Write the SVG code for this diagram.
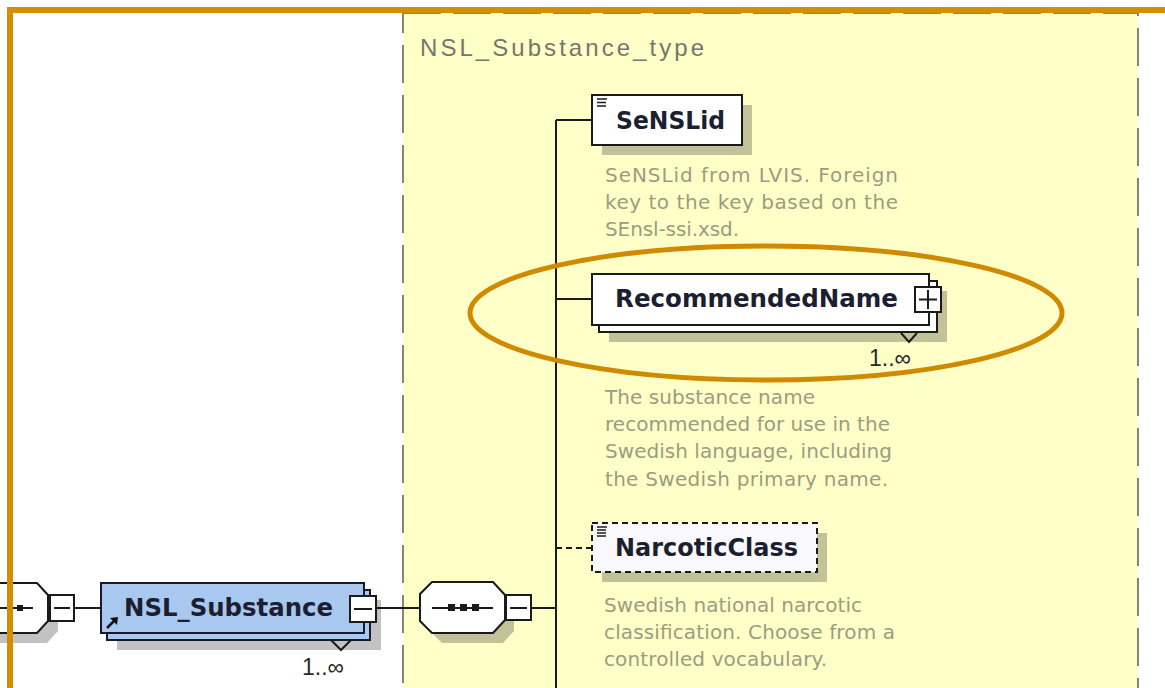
<svg xmlns="http://www.w3.org/2000/svg" width="1165" height="688" viewBox="0 0 1165 688">
<style>
.bg{fill:#ffffff}
.type{fill:#ffffc8;stroke:#85857a;stroke-width:2;stroke-dasharray:38 12}
.shadow{fill:#000;opacity:0.24}
.box{fill:#ffffff;stroke:#1a1a1a;stroke-width:2}
.boxd{fill:#f9f9fd;stroke:#1a1a1a;stroke-width:2;stroke-dasharray:6 4}
.blue{fill:#a8c8ef;stroke:#1a1a2a;stroke-width:2}
.btn{fill:#ffffff;stroke:#1a1a1a;stroke-width:2}
.ln{stroke:#1a1a1a;stroke-width:2;fill:none}
.lnd{stroke:#1a1a1a;stroke-width:2;fill:none;stroke-dasharray:6 4}
.lbl{font-family:"DejaVu Sans","Liberation Sans",sans-serif;font-weight:bold;font-size:24px;fill:#1c1f30}
.desc{font-family:"DejaVu Sans","Liberation Sans",sans-serif;font-size:20px;fill:#9c9c80}
.occ{font-family:"Liberation Sans",Arial,sans-serif;font-size:23px;fill:#2a2a2a}
.title{font-family:"Liberation Sans",Arial,sans-serif;font-size:24px;fill:#76766c}
.orange{fill:none;stroke:#d48f00;stroke-width:6}
.oval{fill:none;stroke:#d08a00;stroke-width:5}
.icon{stroke:#1a1a1a;stroke-width:1.5}
</style>
<rect class="bg" x="0" y="0" width="1165" height="688"/>

<g id="type-box">
<rect class="type" x="403" y="13" width="735" height="700"/>
<text class="title" x="420" y="56" textLength="284" lengthAdjust="spacing">NSL_Substance_type</text>
</g>

<g id="connectors">
<line class="ln" x1="74" y1="608" x2="101" y2="608"/>
<line class="ln" x1="376" y1="608" x2="420" y2="608"/>
<line class="ln" x1="531" y1="608" x2="556" y2="608"/>
<line class="ln" x1="556" y1="120" x2="556" y2="688"/>
<line class="ln" x1="556" y1="120" x2="592" y2="120"/>
<line class="ln" x1="556" y1="299" x2="592" y2="299"/>
<line class="lnd" x1="556" y1="548" x2="592" y2="548"/>
</g>

<g id="parent-compositor">
<polygon class="shadow" points="0,593 47,593 58,605 58,631 47,643 0,643"/>
<polygon class="box" points="-5,583 37,583 48,595 48,621 37,633 -5,633"/>
<line class="ln" x1="0" y1="608" x2="33" y2="608"/>
<rect x="17" y="605" width="6" height="6" fill="#1a1a1a"/>
<rect class="btn" x="50" y="595" width="24" height="26"/>
<line class="ln" x1="54" y1="608" x2="70" y2="608"/>
</g>

<g id="node-NSL_Substance">
<rect class="shadow" x="117" y="600" width="264" height="50"/>
<rect class="blue" x="107" y="590" width="263" height="50"/>
<rect class="blue" x="101" y="583" width="263" height="50"/>
<text class="lbl" x="124" y="616" font-size="25" textLength="209" lengthAdjust="spacingAndGlyphs">NSL_Substance</text>
<path d="M107,628 L116,619" stroke="#111" stroke-width="2.5"/>
<polygon points="118,617 110,618 117,625" fill="#111"/>
<rect class="btn" x="350" y="596" width="26" height="26"/>
<line class="ln" x1="354" y1="609" x2="372" y2="609"/>
<polyline class="ln" points="331,640 341,650 351,640" stroke-width="1.5"/>
<text class="occ" x="302" y="675">1..∞</text>
</g>

<g id="sequence-compositor">
<polygon class="shadow" points="442,592 503,592 514,605 514,631 503,643 442,643 430,631 430,605"/>
<polygon class="box" points="432,582 493,582 505,595 505,620 493,633 432,633 420,621 420,594"/>
<line class="ln" x1="432" y1="608" x2="493" y2="608"/>
<rect x="448" y="604" width="7" height="7" fill="#1a1a1a"/>
<rect x="460" y="604" width="7" height="7" fill="#1a1a1a"/>
<rect x="472" y="604" width="7" height="7" fill="#1a1a1a"/>
<rect class="btn" x="506" y="595" width="25" height="25"/>
<line class="ln" x1="510" y1="608" x2="527" y2="608"/>
</g>

<g id="node-SeNSLid">
<rect class="shadow" x="602" y="105" width="150" height="50"/>
<rect class="box" x="592" y="95" width="150" height="50"/>
<line class="icon" x1="597" y1="99" x2="607" y2="99"/>
<line class="icon" x1="597" y1="102.5" x2="606" y2="102.5"/>
<line class="icon" x1="597" y1="106" x2="606" y2="106"/>
<text class="lbl" x="616" y="129" textLength="109" lengthAdjust="spacingAndGlyphs">SeNSLid</text>
<text class="desc" x="605" y="182" textLength="293">SeNSLid from LVIS. Foreign</text>
<text class="desc" x="605" y="209" textLength="293">key to the key based on the</text>
<text class="desc" x="605" y="236" textLength="134">SEnsl-ssi.xsd.</text>
</g>

<g id="node-RecommendedName">
<rect class="shadow" x="609" y="291" width="338" height="51"/>
<rect class="box" x="599" y="281" width="338" height="51"/>
<rect class="box" x="592" y="274" width="337" height="51"/>
<text class="lbl" x="615" y="307" textLength="283" lengthAdjust="spacingAndGlyphs">RecommendedName</text>
<rect class="btn" x="915" y="287" width="26" height="25"/>
<line class="ln" x1="919" y1="299.5" x2="937" y2="299.5"/>
<line class="ln" x1="928" y1="290" x2="928" y2="309"/>
<polyline class="ln" points="901,333 909,342 917,333" stroke-width="1.5"/>
<text class="occ" x="869" y="366">1..∞</text>
<text class="desc" x="605" y="404" textLength="210">The substance name</text>
<text class="desc" x="605" y="431" textLength="285">recommended for use in the</text>
<text class="desc" x="605" y="458" textLength="287">Swedish language, including</text>
<text class="desc" x="605" y="486" textLength="283">the Swedish primary name.</text>
</g>

<g id="node-NarcoticClass">
<rect class="shadow" x="602" y="533" width="225" height="49"/>
<rect class="boxd" x="592" y="523" width="225" height="49"/>
<line class="icon" x1="597" y1="527" x2="607" y2="527"/>
<line class="icon" x1="597" y1="530" x2="606" y2="530"/>
<line class="icon" x1="597" y1="533" x2="606" y2="533"/>
<line class="icon" x1="597" y1="536" x2="606" y2="536"/>
<text class="lbl" x="615" y="556" textLength="183" lengthAdjust="spacingAndGlyphs">NarcoticClass</text>
<text class="desc" x="604" y="612" textLength="258">Swedish national narcotic</text>
<text class="desc" x="604" y="639" textLength="291">classification. Choose from a</text>
<text class="desc" x="604" y="666" textLength="223">controlled vocabulary.</text>
</g>

<g id="highlight">
<ellipse class="oval" cx="766" cy="313" rx="296" ry="67"/>
<path class="orange" d="M10,688 V10 H1165"/>
</g>
</svg>
